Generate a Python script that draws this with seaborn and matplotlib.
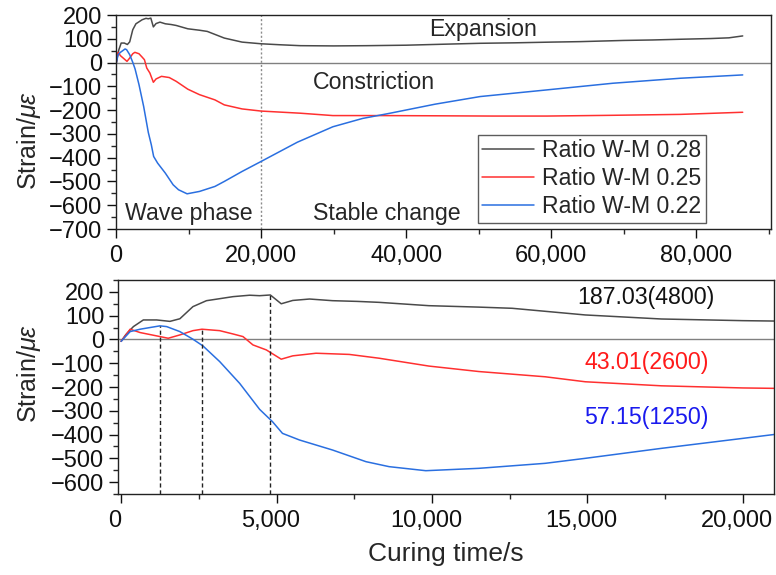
import numpy as np
import pandas as pd
import matplotlib
matplotlib.use("Agg")
import matplotlib.pyplot as plt
import matplotlib.transforms as mtransforms
from matplotlib.ticker import MultipleLocator, FuncFormatter
import seaborn as sns

# Strain records (time in s, strain in micro-strain) for three water-binder ratios
t_028 = [0, 150, 395, 715, 1143, 1570, 1890, 2310, 2745, 3200, 3600, 4135, 4455,
         4800, 5150, 5520, 6060, 6800, 7600, 8300, 9900, 11500, 12580, 14930,
         17380, 20000, 22500, 25400, 30000, 34600, 40000, 45000, 50200, 55000,
         60000, 64000, 70000, 74000, 77800, 82000, 84500, 86400]
s_028 = [-8, 20, 54, 82, 82, 76, 87, 138, 163, 172, 180, 186, 184,
         187.03, 150, 164, 170, 163, 160, 156, 142, 136, 131, 103,
         86, 79, 75, 71, 70, 71, 73, 77, 81, 83,
         86, 88, 93, 95, 98, 101, 104, 112]

t_025 = [0, 290, 610, 1140, 1515, 1890, 2310, 2600, 3170, 3600, 3920, 4240, 4670,
         5150, 5520, 6270, 7340, 8300, 9900, 11510, 13640, 14930, 17380, 20000,
         25400, 29900, 36400, 45000, 52000, 59400, 68000, 77800, 86400]
s_025 = [-8, 43, 29, 15, 5, 19, 37, 43.01, 37, 23, 12, -23, -44,
         -83, -69, -58, -63, -79, -112, -135, -157, -178, -195, -204,
         -213, -223, -223, -224, -225, -225, -222, -218, -209]

t_022 = [0, 290, 610, 1250, 1465, 1890, 2310, 2630, 3170, 3815, 4455, 4870, 5190,
         5740, 6800, 7875, 8620, 9800, 11510, 13640, 14930, 17380, 20000, 25000,
         29900, 34000, 37800, 44000, 50200, 59400, 68500, 77800, 86400]
s_022 = [-8, 33, 43, 57.15, 54, 33, 1, -27, -93, -185, -294, -346, -395,
         -423, -465, -514, -535, -552, -542, -521, -500, -458, -416, -335,
         -270, -235, -213, -175, -143, -115, -87, -66, -52]

labels = ["Ratio W-M 0.28", "Ratio W-M 0.25", "Ratio W-M 0.22"]
colors = ["#4a4a4a", "#ff3030", "#2a6fe0"]

# Peak strain and its time for each ratio
peak_vals = [187.03, 43.01, 57.15]
peak_times = [4800, 2600, 1250]
peak_text_colors = ["#111111", "#ff1a1a", "#1a1aee"]

frames = []
for lab, t, s in zip(labels, [t_028, t_025, t_022], [s_028, s_025, s_022]):
    frames.append(pd.DataFrame({"time": t, "strain": s, "ratio": lab}))
df = pd.concat(frames, ignore_index=True)
palette = dict(zip(labels, colors))

sns.set_theme(style="ticks")
plt.rcParams["font.family"] = ["Liberation Sans", "DejaVu Sans"]
plt.rcParams["mathtext.fontset"] = "custom"
plt.rcParams["mathtext.it"] = "Liberation Sans:italic"
plt.rcParams["mathtext.rm"] = "Liberation Sans"

fig = plt.figure(figsize=(7.76, 5.75), dpi=100)
ax1 = fig.add_axes([116 / 776, 1 - 229 / 575, 655 / 776, 214 / 575])
ax2 = fig.add_axes([118 / 776, 1 - 494 / 575, 656 / 776, 214 / 575])

fs_tick = 17
fs_text = 16.7

comma = FuncFormatter(lambda v, p: f"{int(round(v)):,}")

for ax in (ax1, ax2):
    sns.lineplot(data=df, x="time", y="strain", hue="ratio", palette=palette,
                 hue_order=labels, sort=False, estimator=None, lw=1.1,
                 legend=False, ax=ax)
    ax.axhline(0, color="#808080", lw=1.0, zorder=0)
    for sp in ax.spines.values():
        sp.set_visible(True)
        sp.set_color("#222222")
        sp.set_linewidth(1.0)
    ax.tick_params(axis="both", which="major", direction="out", length=6.8,
                   width=1.0, labelsize=fs_tick, colors="#111111",
                   top=False, right=False)
    ax.tick_params(axis="x", which="major", pad=5)
    ax.tick_params(axis="y", which="major", pad=3)
    ax.tick_params(axis="both", which="minor", direction="out", length=3.3,
                   width=1.0, top=False, right=False)
    ax.xaxis.set_major_formatter(comma)
    ax.yaxis.set_major_locator(MultipleLocator(100))
    ax.yaxis.set_minor_locator(MultipleLocator(50))
    ax.set_ylabel(r"Strain/$\mu\varepsilon$", fontsize=18)
    ax.set_xlabel("")

ax1.yaxis.set_label_coords(-0.111, 0.416)
ax2.yaxis.set_label_coords(-0.114, 0.565)

# Full curing period
ax1.set_xlim(0, 90300)
ax1.set_ylim(-700, 200)
ax1.xaxis.set_major_locator(MultipleLocator(20000))
ax1.xaxis.set_minor_locator(MultipleLocator(10000))
ax1.axvline(20000, color="#8c8c8c", lw=1.0, ls=(0, (1.5, 1.5)), zorder=0)
ax1.text(50600, 141, "Expansion", fontsize=fs_text, ha="center", va="center")
ax1.text(35600, -82, "Constriction", fontsize=fs_text, ha="center", va="center")
ax1.text(1200, -633, "Wave phase", fontsize=fs_text, ha="left", va="center")
ax1.text(27200, -633, "Stable change", fontsize=fs_text, ha="left", va="center")

handles = [plt.Line2D([], [], color=c, lw=1.1) for c in colors]
leg = ax1.legend(handles, labels, loc="lower right",
                 bbox_to_anchor=(0.901, 0.028), fontsize=16.6, frameon=True,
                 fancybox=False, edgecolor="#333333", handlelength=2.25,
                 handletextpad=0.35, borderpad=0.2, labelspacing=0.22,
                 borderaxespad=0.0)
leg.get_frame().set_linewidth(1.0)

# Early-age detail
ax2.set_xlim(-100, 21000)
ax2.set_ylim(-650, 250)
ax2.xaxis.set_major_locator(MultipleLocator(5000))
ax2.xaxis.set_minor_locator(MultipleLocator(2500))
ax2.set_xlabel("Curing time/s", fontsize=19, labelpad=7)
ybot = ax2.get_ylim()[0]
ax2.vlines(peak_times, ybot, peak_vals, colors="#222222", lw=1.0,
           linestyles=(0, (3, 2)), zorder=3)
text_y = [175, -95, -330]
for pv, pt, c, ty in zip(peak_vals, peak_times, peak_text_colors, text_y):
    ax2.text(16890, ty, f"{pv:.2f}({pt})", color=c, fontsize=fs_text,
             ha="center", va="center")

# Bottom time labels sit slightly left of their ticks
shift = mtransforms.ScaledTranslation(-6 / 100, 0, fig.dpi_scale_trans)
for lbl in ax2.get_xticklabels():
    lbl.set_transform(lbl.get_transform() + shift)

fig.savefig("out.png", dpi=100)
